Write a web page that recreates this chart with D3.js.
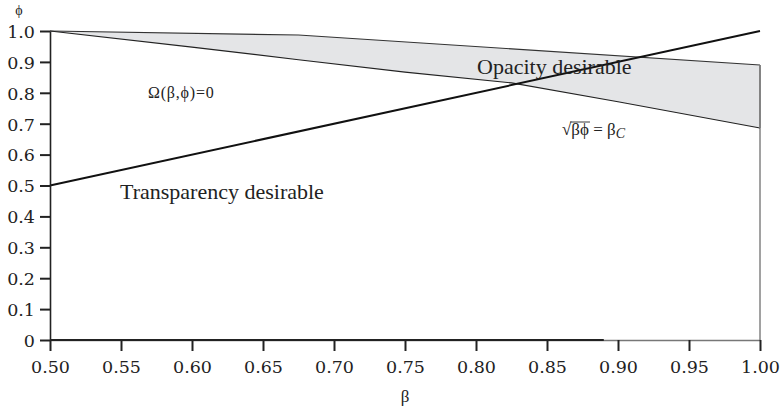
<!DOCTYPE html>
<html>
<head>
<meta charset="utf-8">
<script src="https://cdn.jsdelivr.net/npm/d3@7"></script>
<style>
  body { margin: 0; background: #fff; }
  svg { display: block; }
</style>
</head>
<body>
<div class="chart"></div>
<script>
// boundary of the shaded region (Omega = 0 on top, sqrt(b*phi) = bC below)
var upperBeta = [0.5, 0.675, 1.0];
var upperPhi = [1.0, 0.987, 0.89];
var lowerBeta = [0.5, 0.6, 0.675, 0.75, 0.825, 0.9, 1.0];
var lowerPhi = [1.0, 0.948, 0.907, 0.867, 0.832, 0.771, 0.686];
// rising line phi = beta
var lineBeta = [0.5, 1.0];
var linePhi = [0.5, 1.0];
var xTicks = [0.5, 0.55, 0.6, 0.65, 0.7, 0.75, 0.8, 0.85, 0.9, 0.95, 1.0];
var yTicks = [0, 0.1, 0.2, 0.3, 0.4, 0.5, 0.6, 0.7, 0.8, 0.9, 1.0];

var width = 782;
var height = 410;
var serif = '"Liberation Serif", "Times New Roman", serif';
var tickFont = '"DejaVu Serif", serif';
var svg = d3.select('.chart').append('svg').attr('width', width).attr('height', height);

var x = d3.scaleLinear().domain([0.5, 1]).range([50, 760]);
var y = d3.scaleLinear().domain([0, 1]).range([340, 31]);

var upper = upperBeta.map(function(b, i){ return [b, upperPhi[i]]; });
var lower = lowerBeta.map(function(b, i){ return [b, lowerPhi[i]]; });

var line = d3.line().x(function(d){ return x(d[0]); }).y(function(d){ return y(d[1]); });

// shaded region
svg.append('path')
  .attr('d', line(upper.concat(lower.slice().reverse())) + 'Z')
  .attr('fill', '#e4e5e7')
  .attr('stroke', 'none');

svg.append('path').attr('d', line(upper))
  .attr('fill', 'none').attr('stroke', '#333').attr('stroke-width', 1.2);
svg.append('path').attr('d', line(lower))
  .attr('fill', 'none').attr('stroke', '#222').attr('stroke-width', 1.2);

// right edge
svg.append('line')
  .attr('x1', x(1)).attr('x2', x(1))
  .attr('y1', y(upperPhi[upperPhi.length - 1])).attr('y2', y(lowerPhi[lowerPhi.length - 1]))
  .attr('stroke', '#777').attr('stroke-width', 1.8);
svg.append('line')
  .attr('x1', x(1)).attr('x2', x(1))
  .attr('y1', y(lowerPhi[lowerPhi.length - 1])).attr('y2', y(0))
  .attr('stroke', '#444').attr('stroke-width', 1);

// phi = beta line
svg.append('path')
  .attr('d', line(lineBeta.map(function(b, i){ return [b, linePhi[i]]; })))
  .attr('fill', 'none').attr('stroke', '#111').attr('stroke-width', 2);

// axes
var xAxis = svg.append('g').attr('transform', 'translate(0,' + y(0) + ')')
  .call(d3.axisBottom(x).tickValues(xTicks).tickSize(11).tickSizeOuter(0).tickPadding(9)
    .tickFormat(d3.format('.2f')));
var yAxis = svg.append('g').attr('transform', 'translate(' + x(0.5) + ',0)')
  .call(d3.axisLeft(y).tickValues(yTicks).tickSize(10).tickSizeOuter(0).tickPadding(5)
    .tickFormat(function(d){ return d === 0 ? '0' : d3.format('.1f')(d); }));

[xAxis, yAxis].forEach(function(g){
  g.select('.domain').attr('stroke', '#222').attr('stroke-width', 1.6);
  g.selectAll('.tick line').attr('stroke', '#222').attr('stroke-width', 2);
  g.selectAll('.tick text').attr('fill', '#222')
    .attr('font-family', tickFont).attr('font-size', 17.5);
});
xAxis.select('.domain').attr('stroke', '#777').attr('stroke-width', 1.4);
svg.append('line')
  .attr('x1', x(0.5)).attr('x2', x(0.89)).attr('y1', y(0)).attr('y2', y(0))
  .attr('stroke', '#222').attr('stroke-width', 1.8);
yAxis.selectAll('.tick text').attr('dy', '0.36em');
xAxis.selectAll('.tick text').attr('dy', '0.72em');

// axis titles
svg.append('text').attr('x', 19).attr('y', 15).attr('text-anchor', 'middle')
  .attr('font-family', serif).attr('font-size', 14).attr('fill', '#222')
  .text('ϕ');
svg.append('text').attr('x', x(0.75)).attr('y', 402).attr('text-anchor', 'middle')
  .attr('font-family', serif).attr('font-size', 17).attr('fill', '#222')
  .text('β');

// annotations
function label(tx, ty, size, str) {
  return svg.append('text').attr('x', tx).attr('y', ty)
    .attr('font-family', serif).attr('font-size', size)
    .attr('fill', '#222').text(str);
}
label(477, 74, 22, 'Opacity desirable');
label(120, 199, 22, 'Transparency desirable');
label(148, 98, 16, 'Ω(β,ϕ)=0').attr('letter-spacing', 0.8);

var eq = svg.append('text').attr('x', 562).attr('y', 135)
  .attr('font-family', serif).attr('font-size', 17).attr('fill', '#222');
eq.append('tspan').text('√');
eq.append('tspan').attr('class', 'rad').text('βϕ');
eq.append('tspan').text(' = β');
eq.append('tspan').attr('dy', 3).attr('font-style', 'italic').attr('font-size', 14).text('C');
var bb = eq.select('.rad').node().getBBox();
svg.append('line')
  .attr('x1', bb.x - 1).attr('x2', bb.x + bb.width + 1)
  .attr('y1', bb.y + 2).attr('y2', bb.y + 2)
  .attr('stroke', '#222').attr('stroke-width', 0.9);
</script>
</body>
</html>
